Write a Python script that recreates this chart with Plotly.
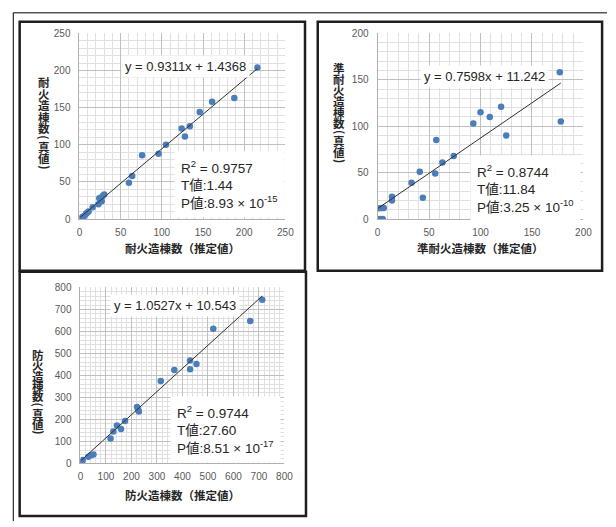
import plotly.graph_objects as go

# ---------------- data ----------------
# Panel 1: 耐火造
fire_est = [0.8, 2, 4, 6, 8, 9, 11, 16, 23, 24, 27, 28, 30, 60, 64, 76, 96, 105, 124, 128, 134, 146, 161, 188, 216]
fire_true = [1.3, 0, 3, 4, 7, 8, 10, 16, 20, 28, 24, 31, 33, 49, 58, 86, 88, 100, 122, 111, 125, 144, 158, 163, 204]
fire_slope, fire_icpt = 0.9311, 1.4368

# Panel 2: 準耐火造
semi_est = [0, 2.5, 5, 1.6, 4, 6, 14, 14, 33, 41, 44, 56, 57, 63, 74, 93, 100, 109, 120, 125, 177, 178]
semi_true = [0, 0, 0, 11.6, 12, 12, 24, 20, 39, 51, 23, 49, 85, 61, 68, 103, 115, 110, 121, 90, 158, 105]
semi_slope, semi_icpt = 0.7598, 11.242

# Panel 3: 防火造
prev_est = [3, 5, 9, 31, 41, 51, 118, 129, 143, 159, 175, 222, 226, 229, 315, 368, 430, 430, 455, 521, 666, 713]
prev_true = [0, 7, 15, 30, 37, 40, 113, 145, 172, 156, 193, 256, 244, 236, 375, 425, 468, 428, 452, 612, 647, 744]
prev_slope, prev_icpt = 1.0527, 10.543

titles_x = ["耐火造棟数（推定値）", "準耐火造棟数（推定値）", "防火造棟数（推定値）"]
titles_y = ["耐火造棟数（真値）", "準耐火造棟数（真値）", "防火造棟数（真値）"]
equations = ["y = 0.9311x + 1.4368", "y = 0.7598x + 11.242", "y = 1.0527x + 10.543"]
stats = [
    ["R<sup>2</sup> = 0.9757", "T値:1.44", "P値:8.93 × 10<sup>-15</sup>"],
    ["R<sup>2</sup> = 0.8744", "T値:11.84", "P値:3.25 × 10<sup>-10</sup>"],
    ["R<sup>2</sup> = 0.9744", "T値:27.60", "P値:8.51 × 10<sup>-17</sup>"],
]
ranges = [250, 200, 800]
majors = [50, 50, 100]
minors = [10, 10, 20]

# ---------------- layout geometry (pixels) ----------------
W, H = 616, 527
def fx(x):
    return x / W
def fy(y):
    return 1 - y / H

plot_boxes = [(78, 288, 28, 218), (382, 592, 28, 218), (79, 287, 288, 468)]
eq_pos = [(186, 62), (491, 72), (175, 306)]
stat_pos = [(180, 183), (482, 187), (176, 433)]
xtitle_y = [248, 248, 500]
ytitle = [(42, 78, 11.8), (343, 63, 11.4), (36, 357, 10.6)]

TXT = "Liberation Sans, Noto Sans CJK JP"
CJK = "Noto Sans CJK JP"

fig = go.Figure()

datasets = [(fire_est, fire_true, fire_slope, fire_icpt),
            (semi_est, semi_true, semi_slope, semi_icpt),
            (prev_est, prev_true, prev_slope, prev_icpt)]

annotations = []
shapes = []
for i, (xs, ys, a, b) in enumerate(datasets):
    xa = "x" if i == 0 else f"x{i+1}"
    ya = "y" if i == 0 else f"y{i+1}"
    fig.add_trace(go.Scatter(x=xs, y=ys, mode="markers", xaxis=xa, yaxis=ya,
                             marker=dict(size=6.5, color="#4a7ebb"), showlegend=False,
                             hoverinfo="skip"))
    x0, x1 = min(xs), max(xs)
    fig.add_trace(go.Scatter(x=[x0, x1], y=[a * x0 + b, a * x1 + b], mode="lines",
                             xaxis=xa, yaxis=ya, line=dict(color="#303030", width=1),
                             showlegend=False, hoverinfo="skip"))
    l, r, t, btm = plot_boxes[i]
    axcommon = dict(range=[0, ranges[i]], dtick=majors[i], tick0=0,
                    showgrid=True, gridcolor="#c0c0c0", gridwidth=1,
                    minor=dict(dtick=minors[i], showgrid=True, gridcolor="#e0e0e0", gridwidth=1),
                    zeroline=False, showline=True, linecolor="#b0b0b0", linewidth=1,
                    ticks="", tickfont=dict(family=TXT, size=10, color="#595959"),
                    fixedrange=True)
    key = "" if i == 0 else str(i + 1)
    fig.update_layout(**{
        f"xaxis{key}": dict(axcommon, domain=[fx(l), fx(r)], anchor=ya, ticklabelstandoff=4),
        f"yaxis{key}": dict(axcommon, domain=[fy(btm), fy(t)], anchor=xa, ticklabelstandoff=6),
    })
    # equation
    ex, ey = eq_pos[i]
    annotations.append(dict(xref="paper", yref="paper", x=fx(ex), y=fy(ey), text=equations[i],
                            showarrow=False, xanchor="center", yanchor="middle",
                            font=dict(family=TXT, size=13, color="#262626"),
                            bgcolor="white", borderpad=3))
    # stats block
    sx, sy = stat_pos[i]
    annotations.append(dict(xref="paper", yref="paper", x=fx(sx - 6), y=fy(sy), text="<br>".join(stats[i]),
                            showarrow=False, xanchor="left", yanchor="middle", align="left",
                            font=dict(family=TXT, size=13.5, color="#262626"),
                            bgcolor="white", borderpad=6))
    # x title
    annotations.append(dict(xref="paper", yref="paper", x=fx((l + r) / 2), y=fy(xtitle_y[i]),
                            text="<b>" + titles_x[i] + "</b>", showarrow=False,
                            xanchor="center", yanchor="middle",
                            font=dict(family=CJK, size=11.5, color="#262626")))
    # y title, stacked vertically (one glyph per row, brackets turned)
    tx, ty, pitch = ytitle[i]
    half_q = 3.5
    cy = ty
    prev_h = None
    for ch in titles_y[i]:
        is_br = ch in "（）"
        h = 2 * half_q if is_br else pitch
        if prev_h is not None:
            cy += (prev_h + h) / 2
        prev_h = h
        if is_br:
            glyph = "(" if ch == "（" else ")"
            ang = 90
        else:
            glyph = ch
            ang = 0
        annotations.append(dict(xref="paper", yref="paper", x=fx(tx), y=fy(cy),
                                text="<b>" + glyph + "</b>", showarrow=False, textangle=ang,
                                xanchor="center", yanchor="middle",
                                font=dict(family=CJK, size=11.5, color="#262626")))

# frames
line_dark = dict(color="#1e1e1e", width=2.5)
panel_frames = [(17, 308, 16, 271), (321, 611, 16, 271), (17, 309, 272, 522)]
for (l, r, t, btm) in panel_frames:
    shapes.append(dict(type="rect", xref="paper", yref="paper", x0=fx(l), x1=fx(r), y0=fy(btm), y1=fy(t),
                       line=line_dark, fillcolor="rgba(0,0,0,0)", layer="above"))
# page edge lines (top and left)
shapes.append(dict(type="line", xref="paper", yref="paper", x0=fx(10.5), x1=1, y0=fy(7), y1=fy(7),
                   line=dict(color="#000000", width=1)))
shapes.append(dict(type="line", xref="paper", yref="paper", x0=fx(10.5), x1=fx(10.5), y0=0, y1=fy(7),
                   line=dict(color="#000000", width=1)))

fig.update_layout(width=W, height=H, margin=dict(l=0, r=0, t=0, b=0),
                  paper_bgcolor="white", plot_bgcolor="white",
                  annotations=annotations, shapes=shapes, showlegend=False)

fig.write_html("out.html", config={"displayModeBar": False},
               post_script="document.body.style.margin='0px';document.body.style.overflow='hidden';")
